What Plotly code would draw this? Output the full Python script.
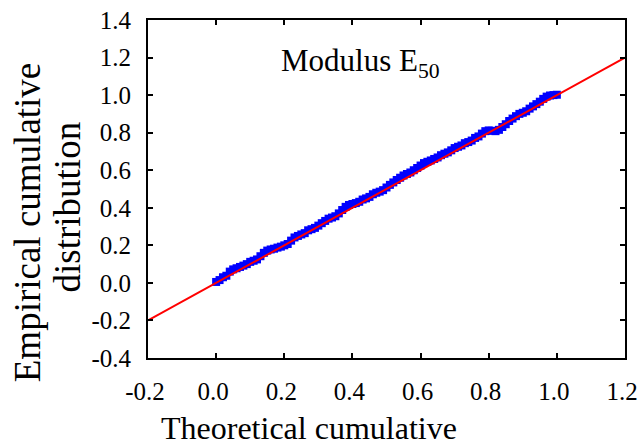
import plotly.graph_objects as go

# Theoretical cumulative probabilities (x) and empirical cumulative values (y)
theoretical = [0.00, 0.01, 0.02, 0.03, 0.04, 0.05, 0.06, 0.07, 0.08, 0.09,
               0.10, 0.11, 0.12, 0.13, 0.14, 0.15, 0.16, 0.17, 0.18, 0.19,
               0.20, 0.21, 0.22, 0.23, 0.24, 0.25, 0.26, 0.27, 0.28, 0.29,
               0.30, 0.31, 0.32, 0.33, 0.34, 0.35, 0.36, 0.37, 0.38, 0.39,
               0.40, 0.41, 0.42, 0.43, 0.44, 0.45, 0.46, 0.47, 0.48, 0.49,
               0.50, 0.51, 0.52, 0.53, 0.54, 0.55, 0.56, 0.57, 0.58, 0.59,
               0.60, 0.61, 0.62, 0.63, 0.64, 0.65, 0.66, 0.67, 0.68, 0.69,
               0.70, 0.71, 0.72, 0.73, 0.74, 0.75, 0.76, 0.77, 0.78, 0.79,
               0.80, 0.81, 0.82, 0.83, 0.84, 0.85, 0.86, 0.87, 0.88, 0.89,
               0.90, 0.91, 0.92, 0.93, 0.94, 0.95, 0.96, 0.97, 0.98, 0.99,
               1.00]
empirical = [0.005, 0.015, 0.030, 0.038, 0.060, 0.072, 0.078, 0.085, 0.092, 0.100,
             0.112, 0.118, 0.125, 0.142, 0.160, 0.172, 0.178, 0.182, 0.188, 0.193,
             0.200, 0.207, 0.225, 0.242, 0.250, 0.258, 0.265, 0.280, 0.286, 0.293,
             0.305, 0.318, 0.330, 0.342, 0.348, 0.355, 0.370, 0.388, 0.405, 0.415,
             0.420, 0.425, 0.432, 0.444, 0.450, 0.458, 0.472, 0.480, 0.486, 0.494,
             0.508, 0.522, 0.535, 0.548, 0.560, 0.572, 0.580, 0.588, 0.600, 0.612,
             0.625, 0.638, 0.645, 0.652, 0.660, 0.668, 0.680, 0.688, 0.695, 0.706,
             0.718, 0.725, 0.732, 0.744, 0.750, 0.758, 0.772, 0.780, 0.795, 0.808,
             0.812, 0.810, 0.808, 0.815, 0.830, 0.845, 0.862, 0.875, 0.888, 0.900,
             0.906, 0.914, 0.928, 0.940, 0.952, 0.965, 0.980, 0.992, 0.998, 1.000,
             1.002]
fit_x = [-0.2, 1.2]
fit_y = [-0.2, 1.2]
tick_vals_x = [-0.2, 0.0, 0.2, 0.4, 0.6, 0.8, 1.0, 1.2]
tick_text_x = ["-0.2", "0.0", "0.2", "0.4", "0.6", "0.8", "1.0", "1.2"]
tick_vals_y = [-0.4, -0.2, 0.0, 0.2, 0.4, 0.6, 0.8, 1.0, 1.2, 1.4]
tick_text_y = ["-0.4", "-0.2", "0.0", "0.2", "0.4", "0.6", "0.8", "1.0", "1.2", "1.4"]

FONT = "Times New Roman, Liberation Serif, serif"

fig = go.Figure()
fig.add_trace(go.Scatter(
    x=theoretical, y=empirical, mode="markers",
    marker=dict(symbol="square", size=8, color="#0000FF", line=dict(width=0)),
    showlegend=False, hoverinfo="skip"))
fig.add_trace(go.Scatter(
    x=fit_x, y=fit_y, mode="lines",
    line=dict(color="#FF0000", width=2), showlegend=False, hoverinfo="skip"))

axis_common = dict(
    showgrid=False, zeroline=False, showline=True, linecolor="black", linewidth=2,
    mirror="allticks", ticks="inside", ticklen=5, tickwidth=1.5, tickcolor="black",
    tickfont=dict(family=FONT, size=25, color="black"),
    ticklabeloverflow="allow", ticklabelstandoff=10, automargin=False)

fig.update_xaxes(range=[-0.2, 1.2], tickvals=tick_vals_x, ticktext=tick_text_x,
                 ticklabelshift=-3, **axis_common)
fig.update_yaxes(range=[-0.4, 1.4], tickvals=tick_vals_y, ticktext=tick_text_y, **axis_common)

fig.add_annotation(xref="paper", yref="paper", x=0.445, y=0.873,
                   text="Modulus E<sub>50</sub>", showarrow=False,
                   font=dict(family=FONT, size=31, color="black"),
                   xanchor="center", yanchor="middle")
fig.add_annotation(xref="paper", yref="paper", x=0.3385, y=-0.207,
                   text="Theoretical cumulative", showarrow=False,
                   font=dict(family=FONT, size=32, color="black"),
                   xanchor="center", yanchor="middle")
fig.add_annotation(xref="paper", yref="paper", x=(28 - 148) / 474, y=1 - (222 - 20) / 338,
                   text="Empirical cumulative", showarrow=False,
                   textangle=-90,
                   font=dict(family=FONT, size=37, color="black"),
                   xanchor="center", yanchor="middle")
fig.add_annotation(xref="paper", yref="paper", x=(68 - 148) / 474, y=1 - (207 - 20) / 338,
                   text="distribution", showarrow=False,
                   textangle=-90,
                   font=dict(family=FONT, size=37, color="black"),
                   xanchor="center", yanchor="middle")

fig.update_layout(
    width=639, height=445,
    margin=dict(l=148, r=14, t=20, b=87),
    paper_bgcolor="white", plot_bgcolor="white",
    font=dict(family=FONT, color="black"))

fig.write_html("out.html")
